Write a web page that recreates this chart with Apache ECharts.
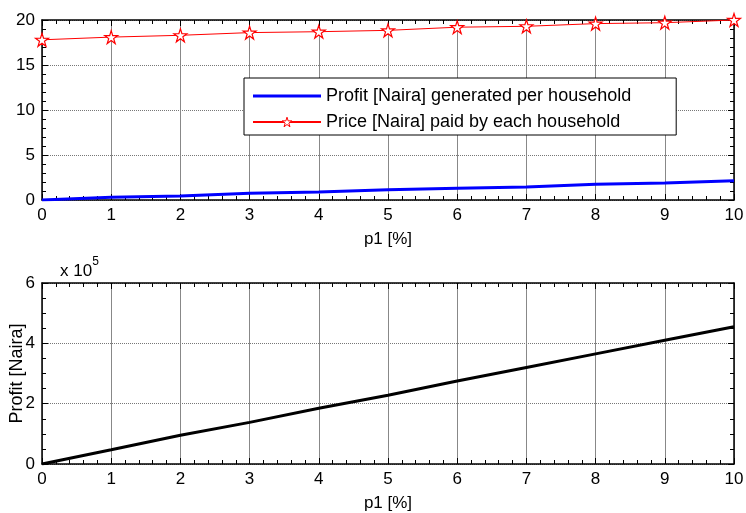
<!DOCTYPE html>
<html><head><meta charset="utf-8">
<script src="https://cdn.jsdelivr.net/npm/echarts@6/dist/echarts.min.js"></script>
<style>html,body{margin:0;padding:0;background:#fff}#c{width:746px;height:513px}</style>
</head><body><div id="c"></div>
<script>
var p1 = [0,1,2,3,4,5,6,7,8,9,10];
var profitPerHousehold = [0,0.3,0.45,0.75,0.9,1.15,1.3,1.45,1.75,1.9,2.15];
var pricePerHousehold = [17.8,18.1,18.3,18.6,18.7,18.85,19.2,19.3,19.6,19.7,20.0];
var totalProfit = [0,47000,95000,138000,185000,228000,275000,320000,365000,410000,455000];
var topYTicks = [0,5,10,15,20];
var bottomYTicks = [0,2,4,6];

var F = 'Liberation Sans, Arial, sans-serif';
var STAR = 'path://M50,0 L61.2,34.5 L97.6,34.5 L68.2,55.9 L79.4,90.5 L50,69.1 L20.6,90.5 L31.8,55.9 L2.4,34.5 L38.8,34.5 Z';
function pairs(xs, ys){ return xs.map(function(x,i){return [x, ys[i]];}); }

function xAx(gi, show){
  return {
    type:'value', gridIndex:gi, min:0, max:10, interval:1,
    position: show ? 'bottom' : 'top',
    axisLine:{show:true, onZero:false, lineStyle:{color:'#000', width:1.5}},
    axisTick:{show:true, inside:true, length:6, lineStyle:{color:'#000'}},
    minorTick:{show:true, splitNumber:5, length:4, lineStyle:{color:'#000'}},
    axisLabel:{show:show, color:'#000', fontSize:17, fontFamily:F, margin:7},
    splitLine:{show:show, lineStyle:{color:'#888', width:1}},
    name: show ? 'p1 [%]' : '', nameLocation:'middle', nameGap:31, nameMoveOverlap:false,
    nameTextStyle:{color:'#000', fontSize:17, fontFamily:F}
  };
}
function yAx(gi, max, interval, minorSplit, show, fmt){
  return {
    type:'value', gridIndex:gi, min:0, max:max, interval:interval,
    position: show ? 'left' : 'right',
    axisLine:{show:true, onZero:false, lineStyle:{color:'#000', width:1.5}},
    axisTick:{show:true, inside:true, length:6, lineStyle:{color:'#000'}},
    minorTick:{show:true, splitNumber:minorSplit, length:4, lineStyle:{color:'#000'}},
    axisLabel:{show:show, color:'#000', fontSize:17, fontFamily:F, margin:7, formatter:fmt},
    splitLine:{show:show, lineStyle:{color:'#777', width:1, type:[1,1]}}
  };
}

var chart = echarts.init(document.getElementById('c'), null, {renderer:'canvas'});
chart.setOption({
  animation:false,
  backgroundColor:'#fff',
  grid:[
    {left:42, right:12, top:20, height:180, outerBoundsMode:'none', containLabel:false},
    {left:42, right:12, top:283, height:181, outerBoundsMode:'none', containLabel:false}
  ],
  xAxis:[xAx(0,true), xAx(0,false), xAx(1,true), xAx(1,false)],
  yAxis:[
    yAx(0,20,5,5,true,function(v){return topYTicks.indexOf(v)>=0? String(v):'';}),
    yAx(0,20,5,5,false),
    Object.assign(yAx(1,600000,200000,4,true,function(v){var t=v/100000; return bottomYTicks.indexOf(t)>=0? String(t):'';}),
      {name:'Profit [Naira]', nameLocation:'middle', nameGap:16, nameRotate:90, nameMoveOverlap:false,
       nameTextStyle:{color:'#000', fontSize:18, fontFamily:F}}),
    yAx(1,600000,200000,4,false)
  ],
  legend:{
    left:244, top:78, orient:'vertical', itemWidth:68, itemHeight:12, itemGap:8,
    padding:[9,45,4,8], borderColor:'#000', borderWidth:1, backgroundColor:'#fff',
    textStyle:{color:'#000', fontSize:18, fontFamily:F},
    data:[
      {name:'Profit [Naira] generated per household', icon:'path://M0,4 L68,4 L68,7 L0,7 Z'},
      {name:'Price [Naira] paid by each household',
       itemStyle:{color:'#fff', borderColor:'#ff0000', borderWidth:1}}
    ]
  },
  series:[
    {name:'Profit [Naira] generated per household', type:'line', xAxisIndex:0, yAxisIndex:0,
     data:pairs(p1, profitPerHousehold), showSymbol:false, symbol:'none',
     lineStyle:{color:'#0000ff', width:3}, itemStyle:{color:'#0000ff'}, z:3},
    {name:'Price [Naira] paid by each household', type:'line', xAxisIndex:0, yAxisIndex:0,
     data:pairs(p1, pricePerHousehold),
     symbol:STAR, symbolSize:13, showAllSymbol:true,
     lineStyle:{color:'#ff0000', width:1}, itemStyle:{color:'#fff', borderColor:'#ff0000', borderWidth:1.2}, z:4},
    {name:'total', type:'line', xAxisIndex:2, yAxisIndex:2,
     data:pairs(p1, totalProfit), symbol:'none',
     lineStyle:{color:'#000', width:3}}
  ],
  graphic:[
    {type:'text', left:60, top:256, style:{
      text:'{a|x 10}{b|5}', rich:{
        a:{fontSize:17, fontFamily:F, fill:'#000', verticalAlign:'bottom'},
        b:{fontSize:12, fontFamily:F, fill:'#000', padding:[0,0,12,0]}
      }}}
  ]
});
</script></body></html>
